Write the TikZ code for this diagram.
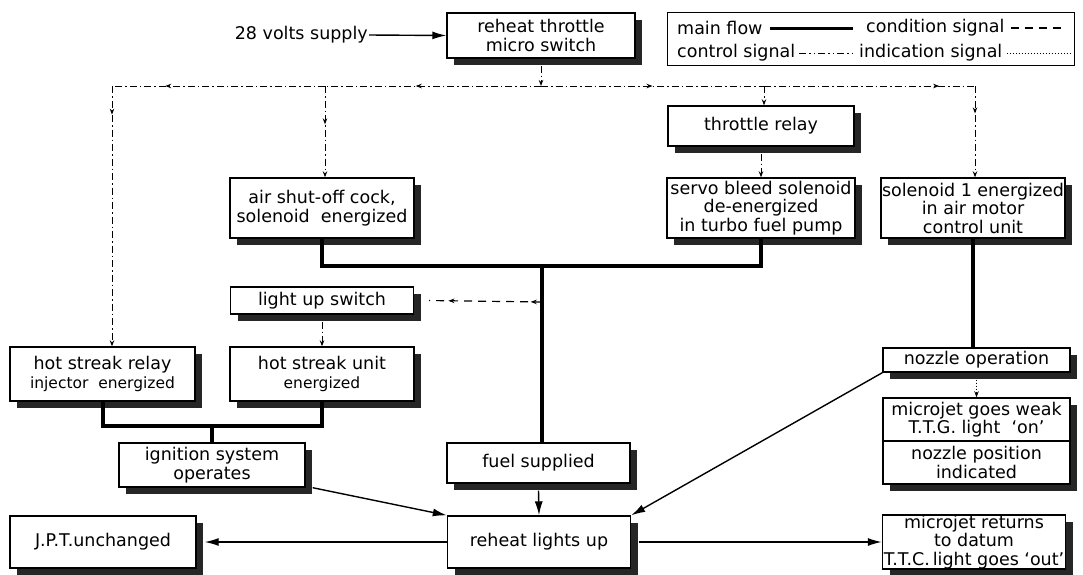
\documentclass[tikz,border=0pt]{standalone}
\usepackage{fontspec}
\setmainfont{DejaVu Sans}
\usetikzlibrary{arrows.meta,shadows,decorations.markings}
\newcommand\smtxt{\fontsize{15.5}{18}\selectfont}
\tikzset{
  box/.style={draw, line width=1.4pt, fill=white, align=center, inner sep=0pt,
    font=\fontsize{17.5}{18.5}\selectfont,
    drop shadow={shadow xshift=7pt, shadow yshift=-7pt, opacity=1, fill=black!85}},
  lt/.style={anchor=west, inner sep=0pt, font=\fontsize{17.5}{18.5}\selectfont},
  mainln/.style={line width=4pt, line join=miter},
  ctrl/.style={line width=1pt, dash pattern=on 7pt off 3pt on 1.5pt off 3pt},
  ctrlleg/.style={line width=1pt, dash pattern=on 7pt off 3pt on 1.5pt off 3pt on 1.5pt off 3pt},
  cond/.style={line width=1.2pt, dash pattern=on 8pt off 6pt},
  ind/.style={line width=1pt, dash pattern=on 1pt off 2pt},
  flow/.style={line width=1.4pt, -{Latex[length=14pt,width=8pt]}},
  sarr/.style={-{Stealth[length=6pt,width=4.5pt]}},
  midarrow/.style={postaction={decorate,decoration={markings,
    mark=at position #1 with {\arrow{Stealth[length=6pt,width=4.5pt]}}}}},
}
\begin{document}
\begin{tikzpicture}[x=1pt,y=-1pt]
\useasboundingbox[fill=white] (0,0) rectangle (1083,574);

% legend
\node[draw, line width=1pt, minimum width=407pt, minimum height=53pt, inner sep=0pt] (legend) at (871,38.5) {};
\node[lt] (lmain) at (677,28) {main flow};
\draw[mainln, line width=3pt] ([xshift=7pt]lmain.east) -- (853,28);
\node[lt] (lcond) at (866,28) {condition signal};
\draw[cond] ([xshift=6pt]lcond.east) -- (1063,28);
\node[lt] (lctrl) at (677,53) {control signal};
\draw[ctrlleg] ([xshift=4pt]lctrl.east) -- (855,53);
\node[lt] (lind) at (859,53) {indication signal};
\draw[ind] ([xshift=4pt]lind.east) -- (1070,53);

% boxes
\node[box, minimum width=188pt, minimum height=45pt] (micro) at (541,35.5) {reheat throttle\\micro switch};
\node[box, minimum width=186pt, minimum height=40pt] (relay) at (761,126) {throttle relay};
\node[box, minimum width=184pt, minimum height=60pt] (air) at (322,208) {air shut-off cock,\\solenoid\ \ energized};
\node[box, minimum width=188pt, minimum height=60pt] (servo) at (761,208) {servo bleed solenoid\\de-energized\\in turbo fuel pump};
\node[box, minimum width=184pt, minimum height=60pt] (sol) at (973,208) {solenoid 1 energized\\in air motor\\control unit};
\node[box, minimum width=183pt, minimum height=27pt] (lus) at (322,300.5) {light up switch};
\node[box, minimum width=185pt, minimum height=54pt] (hsr) at (102.5,374) {hot streak relay\\{\smtxt injector\ \ energized}};
\node[box, minimum width=184pt, minimum height=54pt] (hsu) at (322,374) {hot streak unit\\{\smtxt energized}};
\node[box, minimum width=187pt, minimum height=24pt] (noz) at (976.5,360) {nozzle operation};
\node[box, minimum width=187pt, minimum height=43pt] (mja) at (976.5,419.5) {microjet goes weak\\T.T.G. light\ \ `on'};
\node[box, minimum width=187pt, minimum height=43pt] (mjb) at (976.5,462.5) {nozzle position\\indicated};
\node[box, minimum width=186pt, minimum height=44pt] (ign) at (212,465) {ignition system\\operates};
\node[box, minimum width=183pt, minimum height=40pt] (fuel) at (538.5,463) {fuel supplied};
\node[box, minimum width=183pt, minimum height=52pt] (rlu) at (539,542) {reheat lights up};
\node[box, minimum width=186pt, minimum height=52pt] (jpt) at (103,542) {J.P.T.unchanged};
\node[box, minimum width=183pt, minimum height=54pt] (mjr) at (974,542) {microjet returns\\to datum\\T.T.C.\,light goes `out'};

% supply
\node[anchor=east, inner sep=1pt, font=\fontsize{17.5}{18.5}\selectfont] (volts) at (369,35) {28 volts supply};
\draw[flow] (volts.east) -- (micro.west);

% control signal bus
\coordinate (busC) at (541,86);
\coordinate (busA) at (325,86);
\coordinate (busL) at (112,86);
\coordinate (busT) at (764,86);
\coordinate (busR) at (975,86);
\draw[ctrl, sarr] ([yshift=-7pt]micro.south) -- (busC);
\draw[ctrl, midarrow=0.58] (busC) -- (busA);
\draw[ctrl, midarrow=0.75] (busA) -- (busL);
\draw[ctrl, midarrow=0.11, sarr] (busL) -- (busL |- hsr.north);
\draw[ctrl, midarrow=0.42, sarr] (busA) -- (busA |- air.north);
\draw[ctrl, midarrow=0.5] (busC) -- (busT);
\draw[ctrl, midarrow=0.83] (busT) -- (busR);
\draw[ctrl, sarr] (busT) -- (busT |- relay.north);
\draw[ctrl, midarrow=0.3, sarr] (busR) -- (busR |- sol.north);
\draw[ctrl, sarr] ([yshift=-7pt]relay.south) -- (servo.north);
\draw[ctrl, sarr] ([yshift=-7pt]lus.south) -- (hsu.north);

% main flow
\coordinate (jm) at (542,265);
\coordinate (jl) at (542,302);
\coordinate (jh) at (212,425);
\draw[mainln] (air.south) -- ++(0,27) -| (servo.south);
\draw[mainln] (jm) -- (jm |- fuel.north);
\draw[mainln] (sol.south) -- (sol.south |- noz.north);
\draw[mainln] (hsr.south) -- ++(0,24) -| (hsu.south);
\draw[mainln] (jh) -- (ign.north);

% condition signal
\draw[cond, postaction={decorate,decoration={markings,
    mark=at position 0.1 with {\arrow{Stealth[length=6pt,width=4.5pt]}},
    mark=at position 0.83 with {\arrow{Stealth[length=6pt,width=4.5pt]}}}}]
  (jl) -- ([xshift=15pt]lus.east);

% indication signal
\draw[ind, sarr] ([yshift=-7pt]noz.south) -- (mja.north);

% results
\draw[flow] ([yshift=-7pt]fuel.south) -- (rlu.north);
\draw[flow] ([xshift=7pt]ign.south east) -- (rlu.north west);
\draw[flow] (noz.south west) -- (rlu.north east);
\draw[flow] (rlu.west) -- ([xshift=8pt]jpt.east);
\draw[flow] ([xshift=8pt]rlu.east) -- (mjr.west);
\end{tikzpicture}
\end{document}
